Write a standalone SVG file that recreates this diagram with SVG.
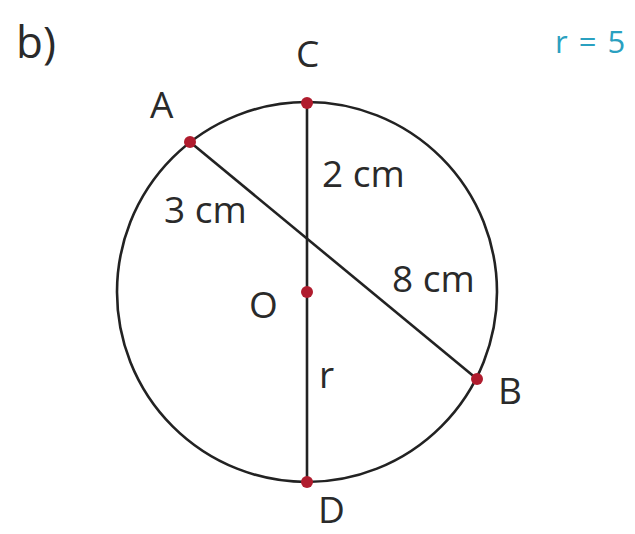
<svg xmlns="http://www.w3.org/2000/svg" width="635" height="534" viewBox="0 0 635 534">
<style>
.t{font-family:"Open Sans","DejaVu Sans",sans-serif;font-size:37px;fill:#2a2a2a}
.ln{stroke:#222;stroke-width:2.6;fill:none}
.pt{fill:#b01c2e}
</style>
<rect width="635" height="534" fill="#fff"/>
<text class="t" x="16" y="58" style="font-size:44px">b)</text>
<text x="555" y="53" style="font-family:'Open Sans','DejaVu Sans',sans-serif;font-size:31px;letter-spacing:1.5px;fill:#2aa0c0">r = 5</text>
<g id="connectors">
<circle class="ln" cx="307" cy="292" r="190"/>
<line class="ln" x1="307" y1="103" x2="307" y2="482"/>
<line class="ln" x1="190" y1="142" x2="477" y2="379"/>
</g>
<g id="A"><circle class="pt" cx="190" cy="142" r="6"/><text class="t" x="150" y="118">A</text></g>
<g id="C"><circle class="pt" cx="307" cy="103" r="6"/><text class="t" x="296" y="67">C</text></g>
<g id="O"><circle class="pt" cx="307" cy="292" r="6"/><text class="t" x="249" y="318">O</text></g>
<g id="B"><circle class="pt" cx="477" cy="379" r="6"/><text class="t" x="498" y="404">B</text></g>
<g id="D"><circle class="pt" cx="307" cy="482" r="6"/><text class="t" x="318" y="523">D</text></g>
<text class="t" x="322" y="187">2 cm</text>
<text class="t" x="164" y="223">3 cm</text>
<text class="t" x="392" y="292">8 cm</text>
<text class="t" x="319" y="388">r</text>
</svg>
